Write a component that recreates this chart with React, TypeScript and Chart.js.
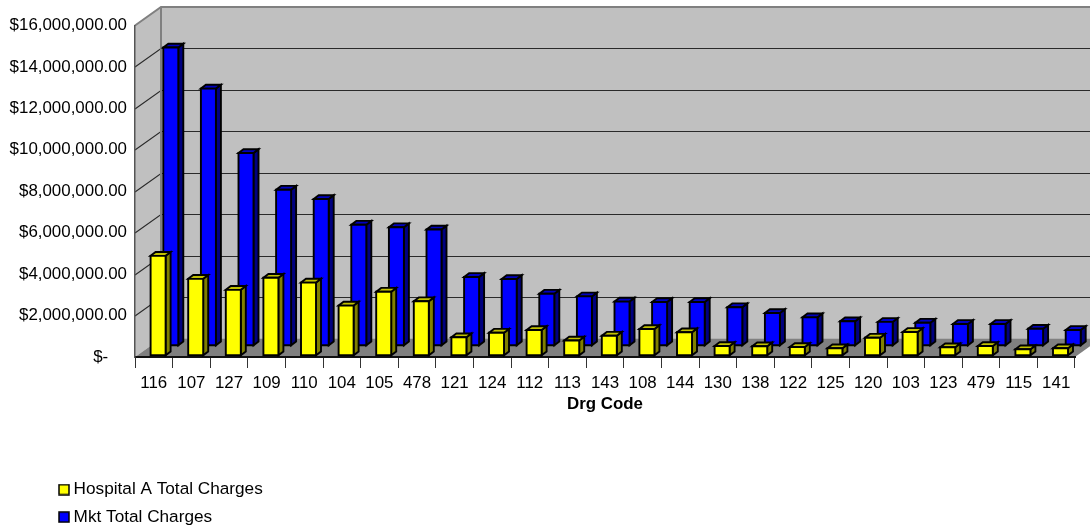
import React, { useEffect, useRef } from "react";
import { Chart, BarController, registerables } from "chart.js";

Chart.register(...registerables);

const drgCodes = [
  "116", "107", "127", "109", "110", "104", "105", "478", "121", "124", "112", "113", "143",
  "108", "144", "130", "138", "122", "125", "120", "103", "123", "479", "115", "141",
];

const hospitalCharges = [
  4800000, 3690000, 3160000, 3740000, 3510000, 2400000, 3070000, 2610000, 870000, 1090000,
  1220000, 715000, 947000, 1270000, 1110000, 450000, 435000, 400000, 338000, 850000, 1126000,
  387000, 450000, 290000, 338000,
];

const marketCharges = [
  14370000, 12390000, 9280000, 7510000, 7060000, 5820000, 5700000, 5590000, 3300000, 3200000,
  2490000, 2360000, 2110000, 2090000, 2090000, 1840000, 1560000, 1350000, 1160000, 1130000,
  1090000, 1030000, 1030000, 800000, 740000,
];

const FONT = "'Liberation Sans', Arial, sans-serif";
const FONT_SIZE = 16.9;

// Oblique projection of the chart box: how far the back wall sits from the front plane.
const DEPTH_X = 26;
const DEPTH_Y = 18.5;
// Oblique projection of each individual bar.
const BAR_DEPTH_X = 5;
const BAR_DEPTH_Y = 3.8;

const currency = (v: number) =>
  v === 0
    ? "$-    "
    : "$" + v.toLocaleString("en-US", { minimumFractionDigits: 2, maximumFractionDigits: 2 });

// Bar controller that paints each bar as a small box: front, side and top faces.
class Bar3DController extends BarController {
  static id = "bar3d";
  static defaults = BarController.defaults;
  static overrides = BarController.overrides;

  draw() {
    const ctx = this.chart.ctx;
    const ds: any = this.getDataset();
    ctx.save();
    ctx.strokeStyle = "#000";
    ctx.lineWidth = 1.9;
    ctx.lineJoin = "miter";
    for (const el of this.getMeta().data as any[]) {
      const { x, y, base, width } = el;
      const l = x + ds.rowShiftX - width / 2;
      const r = l + width;
      const t = y + ds.rowShiftY;
      const b = base + ds.rowShiftY;
      const face = (pts: number[][], fill: string) => {
        ctx.beginPath();
        pts.forEach((p, i) => (i ? ctx.lineTo(p[0], p[1]) : ctx.moveTo(p[0], p[1])));
        ctx.closePath();
        ctx.fillStyle = fill;
        ctx.fill();
        ctx.stroke();
      };
      face([[r, t], [r + BAR_DEPTH_X, t - BAR_DEPTH_Y], [r + BAR_DEPTH_X, b - BAR_DEPTH_Y], [r, b]], ds.sideColor);
      face([[l, t], [l + BAR_DEPTH_X, t - BAR_DEPTH_Y], [r + BAR_DEPTH_X, t - BAR_DEPTH_Y], [r, t]], ds.topColor);
      face([[l, t], [r, t], [r, b], [l, b]], ds.backgroundColor);
    }
    ctx.restore();
  }
}
Chart.register(Bar3DController);

// Side wall, back wall, floor and the gridlines that wrap around them.
const boxPlugin = {
  id: "box3d",
  beforeDraw(chart: any) {
    const { ctx, chartArea: a, scales } = chart;
    const poly = (pts: number[][], fill: string) => {
      ctx.beginPath();
      pts.forEach((p, i) => (i ? ctx.lineTo(p[0], p[1]) : ctx.moveTo(p[0], p[1])));
      ctx.closePath();
      ctx.fillStyle = fill;
      ctx.fill();
    };
    const bl = a.left + DEPTH_X;
    const br = a.right + DEPTH_X;
    const bt = a.top - DEPTH_Y;
    const bb = a.bottom - DEPTH_Y;
    ctx.save();
    poly([[bl, bt], [br, bt], [br, bb], [bl, bb]], "#c0c0c0");
    poly([[a.left, a.top], [bl, bt], [bl, bb], [a.left, a.bottom]], "#c0c0c0");
    poly([[a.left, a.bottom], [a.right, a.bottom], [br, bb], [bl, bb]], "#808080");

    for (const tick of scales.y.ticks) {
      if (tick.value === 0 || tick.value === scales.y.max) continue;
      const py = Math.round(scales.y.getPixelForValue(tick.value) - DEPTH_Y) + 0.5;
      ctx.beginPath();
      ctx.moveTo(a.left, py + DEPTH_Y);
      ctx.lineTo(bl, py);
      ctx.lineTo(br, py);
      ctx.strokeStyle = "#2a2a2a";
      ctx.lineWidth = 1.1;
      ctx.stroke();
    }

    ctx.strokeStyle = "#808080";
    ctx.lineWidth = 2;
    ctx.beginPath();
    ctx.moveTo(a.left, a.top);
    ctx.lineTo(bl, bt);
    ctx.lineTo(br, bt);
    ctx.moveTo(bl, bt);
    ctx.lineTo(bl, bb);
    ctx.stroke();
    ctx.restore();
  },
  afterLayout(chart: any) {
    // The legend sits in its own column below the axis title.
    const legend = chart.legend;
    if (!legend) return;
    const pad = legend.options.labels.padding;
    legend.left = 63 - pad;
    legend.top = 481 - pad;
    legend.right = chart.width;
    legend.bottom = chart.height + 60;
  },
};

const swatch = (color: string) => {
  const c = document.createElement("canvas");
  c.width = 12;
  c.height = 12;
  const g = c.getContext("2d") as CanvasRenderingContext2D;
  g.fillStyle = color;
  g.fillRect(1, 1, 10, 10);
  g.strokeStyle = "#000";
  g.lineWidth = 1.5;
  g.strokeRect(1, 1, 10, 10);
  return c;
};

export default function App() {
  const ref = useRef<HTMLCanvasElement>(null);

  useEffect(() => {
    const chart = new Chart(ref.current as HTMLCanvasElement, {
      type: "bar3d" as any,
      plugins: [boxPlugin],
      data: {
        labels: drgCodes,
        datasets: [
          {
            label: "Hospital A Total Charges",
            data: hospitalCharges,
            backgroundColor: "#ffff00",
            sideColor: "#808000",
            topColor: "#c0c000",
            rowShiftX: 4.3,
            rowShiftY: -1.7,
            barThickness: 15,
            grouped: false,
            clip: false,
          },
          {
            label: "Mkt Total Charges",
            data: marketCharges,
            backgroundColor: "#0000ff",
            sideColor: "#000080",
            topColor: "#0000c0",
            rowShiftX: 17,
            rowShiftY: -11.7,
            barThickness: 15,
            grouped: false,
            clip: false,
          },
        ] as any,
      },
      options: {
        animation: false,
        responsive: false,
        layout: { padding: { top: 25.5, right: 15, left: 0, bottom: 0 } },
        plugins: {
          tooltip: { enabled: false },
          title: { display: false },
          legend: {
            display: true,
            position: "chartArea" as any,
            align: "start",
            labels: {
              usePointStyle: true,
              pointStyleWidth: 2,
              boxHeight: 12,
              padding: 10.3,
              color: "#000",
              font: { family: FONT, size: 17.2 },
              generateLabels: (c: any) =>
                c.data.datasets.map((d: any, i: number) => ({
                  text: d.label,
                  pointStyle: swatch(d.backgroundColor),
                  datasetIndex: i,
                  lineWidth: 0,
                  hidden: false,
                })),
            },
          },
        },
        scales: {
          x: {
            type: "category",
            offset: true,
            afterFit: (s: any) => {
              s.height = 168;
            },
            border: { color: "#111", width: 2 },
            grid: { offset: true, drawOnChartArea: false, tickLength: 11, color: "#333" },
            ticks: {
              color: "#000",
              autoSkip: false,
              maxRotation: 0,
              padding: 5,
              font: { family: FONT, size: FONT_SIZE },
            },
            title: {
              display: true,
              text: "Drg Code",
              color: "#000",
              font: { family: FONT, size: FONT_SIZE, weight: "bold" },
              padding: { top: 0, bottom: 111 },
            },
          },
          y: {
            type: "linear",
            min: 0,
            max: 16000000,
            afterFit: (s: any) => {
              s.width = 135;
            },
            border: { color: "#555", width: 1.5 },
            grid: { display: false, drawTicks: false },
            ticks: {
              stepSize: 2000000,
              padding: 8,
              color: "#000",
              font: { family: FONT, size: FONT_SIZE },
              callback: (v: any) => currency(Number(v)),
            },
          },
        },
      } as any,
    });
    return () => chart.destroy();
  }, []);

  return (
    <div style={{ position: "absolute", left: 0, top: 0, width: 1090, height: 525, background: "#fff" }}>
      <canvas ref={ref} width={1090} height={525} style={{ display: "block" }} />
    </div>
  );
}
